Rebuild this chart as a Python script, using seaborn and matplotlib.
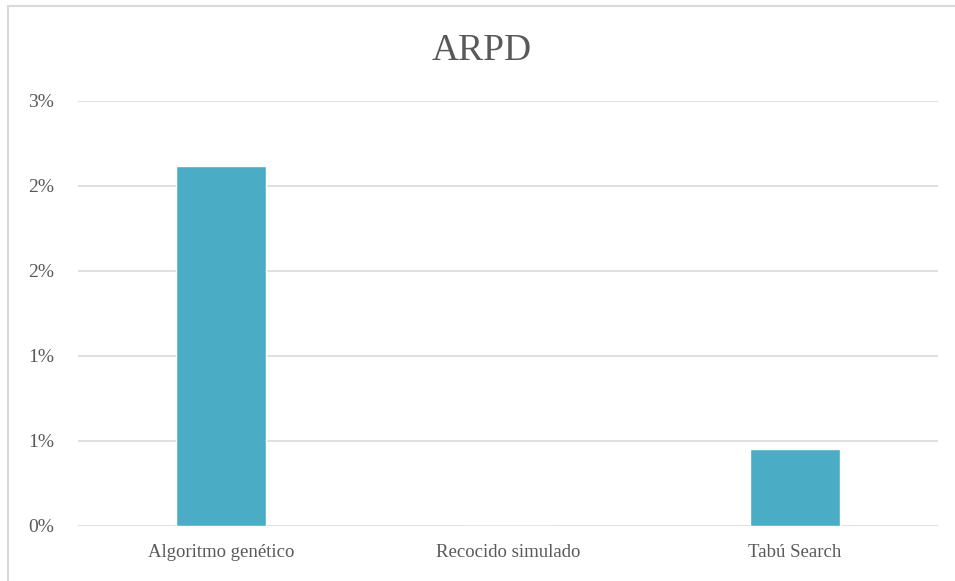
import matplotlib
matplotlib.use("Agg")
import matplotlib.pyplot as plt
import seaborn as sns
import pandas as pd
from matplotlib.ticker import FuncFormatter, MultipleLocator
from matplotlib.lines import Line2D

categories = ["Algoritmo genético", "Recocido simulado", "Tabú Search"]
arpd_values = [0.0212, 0.0, 0.0045]

df = pd.DataFrame({"metodo": categories, "arpd": arpd_values})

sns.set_theme(style="white")
plt.rcParams["font.family"] = ["Liberation Serif", "DejaVu Serif"]

text_color = "#595959"
grid_color = "#D9D9D9"

fig = plt.figure(figsize=(9.55, 5.81), dpi=100)
ax = fig.add_axes([0.0817, 0.0947, 0.9005, 0.7315])

sns.barplot(data=df, x="metodo", y="arpd", color="#4BACC6", width=0.314,
            saturation=1, ax=ax, zorder=3)

ax.set_ylim(0, 0.025)
ax.set_xlim(-0.5, 2.5)
ax.yaxis.set_major_locator(MultipleLocator(0.005))
ax.yaxis.set_major_formatter(FuncFormatter(lambda v, p: f"{int(v * 100 + 0.5 + 1e-9)}%"))
ax.grid(axis="y", color=grid_color, linewidth=1.2, zorder=0)
ax.set_axisbelow(True)
for s in ax.spines.values():
    s.set_visible(False)

ax.set_xlabel("")
ax.set_ylabel("")
ax.tick_params(axis="y", length=0, pad=17, labelsize=14, labelcolor=text_color)
ax.tick_params(axis="x", length=0, pad=13, labelsize=13.5, labelcolor=text_color)

fig.text(0.5045, 0.913, "ARPD", ha="center", va="center", fontsize=27, color=text_color)

# chart frame (top and left edges)
fig.add_artist(Line2D([0.0084, 1.0], [0.9905, 0.9905], color=grid_color, linewidth=1.5,
                      transform=fig.transFigure))
fig.add_artist(Line2D([0.0084, 0.0084], [0.0, 0.9905], color=grid_color, linewidth=1.5,
                      transform=fig.transFigure))

fig.savefig("out.png", dpi=100, facecolor="white")
